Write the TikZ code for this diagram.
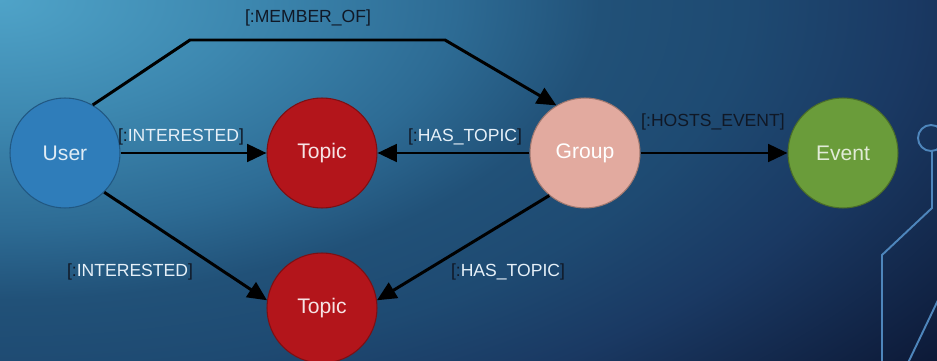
\documentclass[tikz,border=0pt]{standalone}
\usepackage{fontspec}
\setmainfont{Liberation Sans}
\usetikzlibrary{arrows.meta}
\definecolor{userblue}{HTML}{2F7DBA}
\definecolor{topicred}{HTML}{B3151B}
\definecolor{grouppink}{HTML}{E2AA9F}
\definecolor{eventgreen}{HTML}{6A9C3A}
\definecolor{labeldark}{HTML}{101826}
\definecolor{labellight}{HTML}{E6F0F8}
\definecolor{circuitblue}{HTML}{4E86BC}
\definecolor{bga}{HTML}{4FA3C8}
\definecolor{bgb}{HTML}{3D88B0}
\definecolor{bgc}{HTML}{2D6B94}
\definecolor{bgd}{HTML}{215178}
\definecolor{bge}{HTML}{1E4A72}
\definecolor{bgf}{HTML}{1A3963}
\definecolor{bgg}{HTML}{0D1A38}
\pgfdeclareradialshading{slidebg}{\pgfpoint{0bp}{0bp}}{%
  color(0bp)=(bga); color(5bp)=(bgb); color(9.5bp)=(bgc); color(12.5bp)=(bgd);
  color(15.5bp)=(bge); color(19bp)=(bgf); color(24.5bp)=(bgg); color(50bp)=(bgg)}
\newcommand\rellabel[1]{\textcolor{labeldark}{[:}#1\textcolor{labeldark}{]}}
\tikzset{
  entity/.style={circle, minimum size=2.2cm, inner sep=0pt, line width=0.6pt,
    font=\fontsize{12}{14}\selectfont},
  rel/.style={draw=black, line width=1.7pt, line join=miter,
    -{Triangle[length=11pt,width=10pt]}},
  reldark/.style={text=labeldark, inner sep=1pt, font=\fontsize{10}{12}\selectfont},
  rellight/.style={text=labellight, inner sep=1pt, font=\fontsize{10}{12}\selectfont},
  circuit/.style={draw=circuitblue, line width=1.1pt}
}
\begin{document}
\begin{tikzpicture}[x=0.02cm,y=-0.02cm]
        % Background
        \begin{scope}
          \clip (0,0) rectangle (937,361);
          \shade[shading=slidebg] (0,0) ellipse (1200 and 600);
        \end{scope}
        \useasboundingbox (0,0) rectangle (937,361);

        % Circuit lines on the right
        \draw[circuit] (931,138) circle (13);
        \draw[circuit] (932,151) -- (932,208) -- (882,255) -- (882,365);
        \draw[circuit] (940,296) -- (907,365);

        % The entities
        \node[entity, fill=userblue, draw=userblue!70!black, text=white!85!userblue] (user) at (65,153) {User};
        \node[entity, fill=topicred, draw=topicred!70!black, text=white!88!topicred] (topic) at (322,153) {Topic};
        \node[entity, fill=grouppink, draw=grouppink!70!black, text=white] (group) at (585,153) {Group};
        \node[entity, fill=eventgreen, draw=eventgreen!70!black, text=white!80!eventgreen] (event) at (843,153) {Event};
        \node[entity, fill=topicred, draw=topicred!70!black, text=white!88!topicred] (topicb) at (322,308) {Topic};

        % The relations
        \draw[rel] (user.60) -- (190,40) -- (445,40) -- (group.121);
        \draw[rel] (user) -- (topic);
        \draw[rel] (group) -- (topic);
        \draw[rel] (group) -- (event);
        \draw[rel] (user.-45) -- (topicb.172);
        \draw[rel] (group.-130) -- (topicb.8);

        % The labels
        \node[reldark] (memberof) at (308,18) {[:MEMBER\_OF]};
        \node[rellight] (interested) at (181,137) {\rellabel{INTERESTED}};
        \node[rellight] (hastopic) at (465,137) {\rellabel{HAS\_TOPIC}};
        \node[reldark] (hostsevent) at (713,122) {[:HOSTS\_EVENT]};
        \node[rellight] (interestedb) at (130,272) {\rellabel{INTERESTED}};
        \node[rellight] (hastopicb) at (508,272) {\rellabel{HAS\_TOPIC}};
    \end{tikzpicture}
\end{document}
